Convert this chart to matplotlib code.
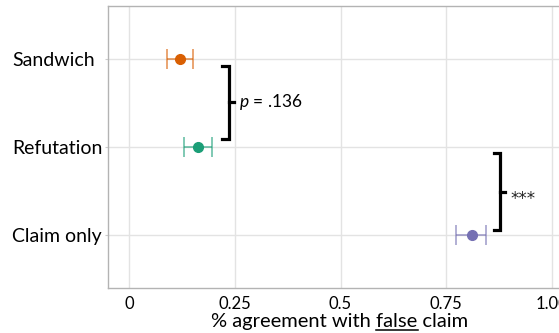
import matplotlib
matplotlib.use("Agg")
import matplotlib.pyplot as plt
from matplotlib.lines import Line2D

plt.rcParams["font.family"] = ["Lato", "DejaVu Sans"]
plt.rcParams["mathtext.fontset"] = "custom"
plt.rcParams["mathtext.rm"] = "Lato"
plt.rcParams["mathtext.it"] = "Lato:italic"

conditions = ["Claim only", "Refutation", "Sandwich"]
agreement = [0.810, 0.163, 0.121]
ci_low = [0.774, 0.130, 0.090]
ci_high = [0.845, 0.197, 0.151]
colors = ["#7570B3", "#1B9E77", "#D95F02"]
xticks = [0, 0.25, 0.5, 0.75, 1.0]
xtick_labels = ["0", "0.25", "0.5", "0.75", "1.00"]

W, H = 559, 333
fig = plt.figure(figsize=(W / 100, H / 100), dpi=100)
ax = fig.add_axes([108 / W, 45 / H, 465 / W, 282 / H])

for i, (m, lo, hi, c) in enumerate(zip(agreement, ci_low, ci_high, colors)):
    y = i + 1
    ax.errorbar(m, y, xerr=[[m - lo], [hi - m]], fmt="none", ecolor=c,
                alpha=0.6, elinewidth=1.3, capsize=7, capthick=1.3, zorder=3)
    ax.plot(m, y, "o", color=c, markersize=7, zorder=4)


def bracket(ax, x, y0, y1, tip=0.016, stub=0.012):
    ax.plot([x - tip, x, x, x - tip], [y0, y0, y1, y1], color="black",
            lw=2.3, solid_joinstyle="miter", zorder=5)
    ym = (y0 + y1) / 2
    ax.plot([x, x + stub], [ym, ym], color="black", lw=2.3, zorder=5)
    return ym


ym = bracket(ax, 0.236, 2.09, 2.92)
ax.text(0.260, ym, r"$p$ = .136", fontsize=12.5, va="center", ha="left")
ym = bracket(ax, 0.878, 1.06, 1.93)
ax.text(0.903, 1.35, "***", fontsize=12, va="baseline", ha="left",
        family="DejaVu Sans", color="#222222")

ax.set_xlim(-0.05, 1.05)
ax.set_ylim(0.4, 3.6)
ax.set_xticks(xticks)
ax.set_xticklabels(xtick_labels, fontsize=12)
ax.set_yticks([1, 2, 3])
ax.set_yticklabels(conditions, fontsize=14, ha="left")
ax.tick_params(axis="y", length=2, color="#cccccc", pad=96 * 0.72 - 2)
ax.tick_params(axis="x", length=0, pad=6)
ax.grid(True, color="#e3e3e3", lw=1)
ax.set_axisbelow(True)
for side in ["left", "bottom", "top", "right"]:
    ax.spines[side].set_color("#b3b3b3")
    ax.spines[side].set_linewidth(1)

# x label with "false" underlined
label = "% agreement with false claim"
head = "% agreement with false"
cx, base = 340 / W, 6 / H
lab = fig.text(cx, base, label, fontsize=14.5, ha="center", va="baseline")
r = fig.canvas.get_renderer()
probe = fig.text(0, 0, head, fontsize=14.5)
w_head = probe.get_window_extent(r).width
probe.set_text("false")
w_false = probe.get_window_extent(r).width
probe.remove()
left = lab.get_window_extent(r).x0
x1 = (left + w_head) / W
x0 = (left + w_head - w_false) / W
uy = base - 3 / H
fig.add_artist(Line2D([x0, x1], [uy, uy], color="black", lw=1.1,
                      transform=fig.transFigure))

fig.savefig("out.png", dpi=100)
